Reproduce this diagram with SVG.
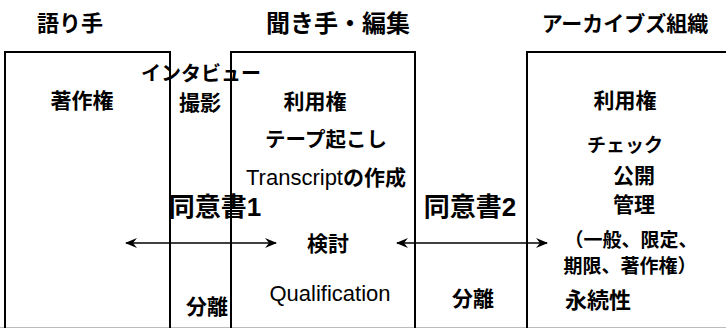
<svg xmlns="http://www.w3.org/2000/svg" width="726" height="328" viewBox="0 0 726 328">
<style>
text{font-family:"Liberation Sans","Noto Sans CJK JP",sans-serif;font-weight:bold;fill:#000;text-anchor:middle}
.t{font-size:22px}
.b{font-size:21px}
.big{font-size:26px}
.lat{font-weight:normal}
.box{fill:none;stroke:#000;stroke-width:2}
.ar{stroke:#000;stroke-width:1.5;fill:none}
</style>
<defs>
<marker id="ah" viewBox="0 0 12 10" refX="11" refY="5" markerWidth="12" markerHeight="10" markerUnits="userSpaceOnUse" orient="auto-start-reverse">
<path d="M0,0 L12,5 L0,10 L4,5 Z" fill="#000"/>
</marker>
</defs>
<rect width="726" height="328" fill="#fff"/>
<line x1="0" y1="327.5" x2="726" y2="327.5" stroke="#bbb" stroke-width="1"/>
<g id="gap1">
<text x="201" y="81" style="font-size:20px">インタビュー</text>
<text class="b" x="200" y="110">撮影</text>
<text class="big" x="215" y="216">同意書1</text>
<text class="b" x="207" y="314">分離</text>
</g>
<g id="gap2">
<text class="big" x="470" y="216">同意書2</text>
<text class="b" x="473" y="306">分離</text>
</g>
<g id="narrator">
<rect class="box" x="5" y="52" width="165" height="300"/>
<text class="t" x="70" y="31">語り手</text>
<text class="b" x="82" y="108">著作権</text>
</g>
<g id="interviewer">
<rect class="box" x="231" y="52" width="184" height="300"/>
<text class="t" x="338" y="32" style="font-size:24px">聞き手・編集</text>
<text class="b" x="315" y="109">利用権</text>
<text class="b" x="326" y="147" style="font-size:20.5px">テープ起こし</text>
<text x="326" y="185" style="font-size:21px"><tspan class="lat" style="font-size:22px">Transcript</tspan>の作成</text>
<text class="b" x="328" y="251">検討</text>
<text class="lat" x="330" y="301" style="font-size:22px">Qualification</text>
</g>
<g id="archive">
<rect class="box" x="527" y="52" width="220" height="300"/>
<text class="t" x="625" y="31" style="font-size:21px">アーカイブズ組織</text>
<text class="b" x="625" y="108">利用権</text>
<text x="625" y="152" style="font-size:19px">チェック</text>
<text class="b" x="634" y="183">公開</text>
<text class="b" x="634" y="212">管理</text>
<text x="631" y="247" style="font-size:19px">（一般、限定、</text>
<text x="630" y="273" style="font-size:19px">期限、著作権）</text>
<text x="565" y="308" style="font-size:22px;text-anchor:start">永続性</text>
</g>
<g id="connectors">
<line class="ar" x1="126" y1="243" x2="276" y2="243" marker-start="url(#ah)" marker-end="url(#ah)"/>
<line class="ar" x1="397" y1="243" x2="547" y2="243" marker-start="url(#ah)" marker-end="url(#ah)"/>
</g>
</svg>
